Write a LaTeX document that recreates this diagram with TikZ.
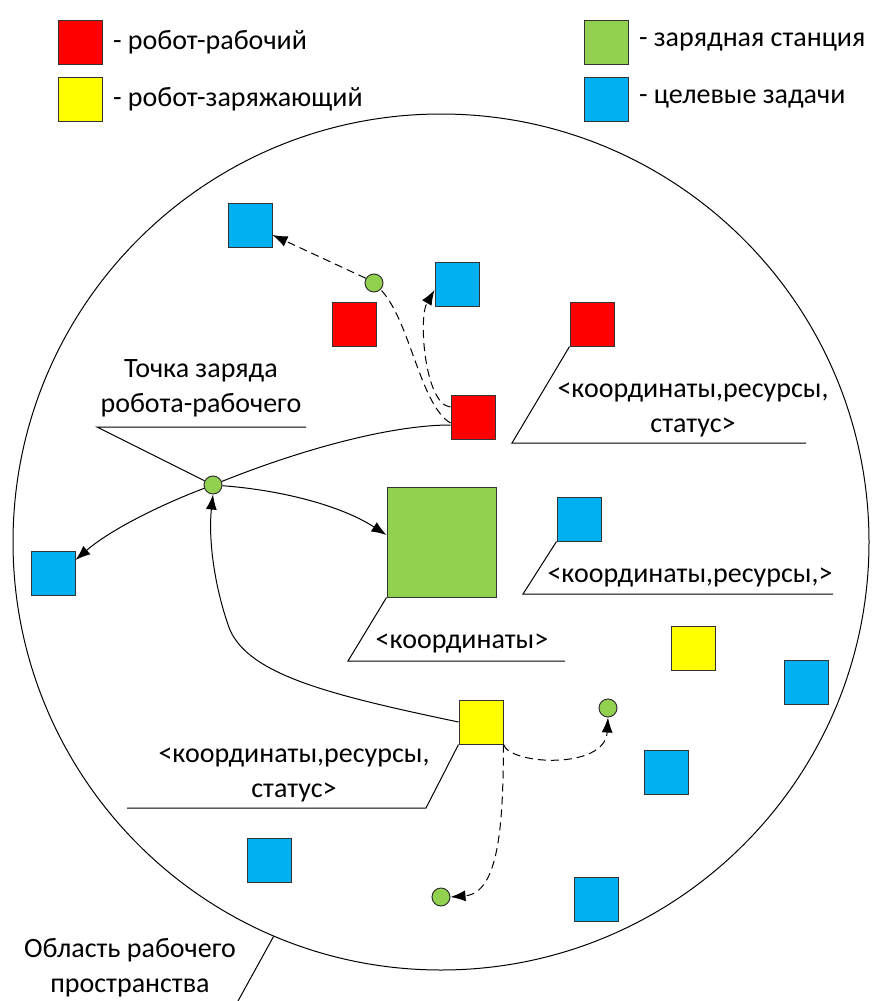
\documentclass[tikz,border=0pt]{standalone}
\usepackage{fontspec}
\setmainfont{Carlito}
\usetikzlibrary{positioning}
\usetikzlibrary{arrows.meta}

\definecolor{rob}{HTML}{FF0000}
\definecolor{chg}{HTML}{FFFF00}
\definecolor{stn}{HTML}{92D050}
\definecolor{tsk}{HTML}{00B0F0}

\begin{document}
\begin{tikzpicture}[x=1pt, y=-1pt, line width=1pt,
        every node/.style={font=\fontsize{28}{35}\selectfont},
        box/.style={draw=black!80, minimum size=44pt, inner sep=0pt},
        dot/.style={draw=black!80, circle, fill=stn, minimum size=18pt, inner sep=0pt},
        txt/.style={align=center, inner sep=0pt},
        arr/.style={-{Latex[length=15pt,width=11pt]}},
        dsh/.style={dash pattern=on 8pt off 5pt}]

    \useasboundingbox (0,0) rectangle (873,1001);

    % legend
    \node[box, fill=rob] (lrob) at (80,42) {};
    \node[txt, right=10pt of lrob] (lrobt) {- робот-рабочий};
    \node[box, fill=chg] (lchg) at (80,99) {};
    \node[txt, right=10pt of lchg] (lchgt) {- робот-заряжающий};
    \node[box, fill=stn] (lstn) at (606,42) {};
    \node[txt, right=10pt of lstn] (lstnt) {- зарядная станция};
    \node[box, fill=tsk] (ltsk) at (606,99) {};
    \node[txt, right=10pt of ltsk] (ltskt) {- целевые задачи};

    % working area
    \node[draw, circle, minimum size=856pt, inner sep=0pt] (area) at (441,542) {};

    % robots, tasks, station
    \node[box, fill=tsk] (tsk1) at (250,225) {};
    \node[box, fill=tsk] (tsk2) at (457,284) {};
    \node[box, fill=rob] (rob1) at (354,324) {};
    \node[box, fill=rob] (rob2) at (592,324) {};
    \node[box, fill=rob] (rob3) at (473,417) {};
    \node[box, fill=stn, minimum width=109pt, minimum height=110pt] (stn) at (441.5,542) {};
    \node[box, fill=tsk] (tsk3) at (579,519) {};
    \node[box, fill=tsk] (tsk4) at (53,573) {};
    \node[box, fill=chg] (chg1) at (693,648) {};
    \node[box, fill=tsk] (tsk5) at (806,682) {};
    \node[box, fill=chg] (chg2) at (481,722) {};
    \node[box, fill=tsk] (tsk6) at (666,772) {};
    \node[box, fill=tsk] (tsk7) at (269,860) {};
    \node[box, fill=tsk] (tsk8) at (596,899) {};

    \node[dot] (cp) at (213,485) {};
    \node[dot] (dot1) at (374,283) {};
    \node[dot] (dot2) at (608,708) {};
    \node[dot] (dot3) at (441,897) {};

    % charging point
    \node[txt] (cplbl) at (201,388) {Точка заряда\\робота-рабочего};
    \coordinate (cpl) at (97,427);
    \coordinate (cpr) at (306,427);
    \draw (cpr) -- (cpl) -- (cp);

    \draw (cp) .. controls (300,450) and (390,425) .. ([yshift=-8pt]rob3.west);
    \draw[arr] (cp) .. controls (160,505) and (110,530) .. ([yshift=13pt]tsk4.east);
    \draw[arr] (cp) .. controls (280,490) and (340,505) .. ([yshift=7pt]stn.west);
    \draw[arr] (chg2.west) .. controls (330,695) and (250,675) .. (230,630)
        .. controls (215,590) and (208,540) .. (cp.south);

    % worker robot paths
    \draw[dsh, arr] ([yshift=10pt]rob3.west) .. controls (425,405) and (418,318) .. ([yshift=-6pt]tsk2.west);
    \draw[dsh] ([yshift=-6pt]rob3.west) .. controls (420,405) and (410,320) .. (dot1.-45);
    \draw[dsh, arr] (dot1.150) -- ([yshift=-10pt]tsk1.east);

    % charging robot paths
    \draw[dsh, arr] (chg2.south east) .. controls (510,765) and (605,770) .. (dot2.south);
    \draw[dsh, arr] (chg2.south east) .. controls (503,820) and (500,893) .. (dot3.east);

    % callouts
    \coordinate (r2a) at (512,443);
    \coordinate (r2b) at (806,443);
    \draw (rob2.south west) -- (r2a) -- (r2b);
    \node[txt] (r2lbl) at (693,410) {<координаты,ресурсы,\\статус>};

    \coordinate (t3a) at (523,594);
    \coordinate (t3b) at (833,594);
    \draw (tsk3.south west) -- (t3a) -- (t3b);
    \node[txt] (t3lbl) at (690,577) {<координаты,ресурсы,>};

    \coordinate (sa) at (348,661);
    \coordinate (sb) at (565,661);
    \draw (stn.south west) -- (sa) -- (sb);
    \node[txt] (slbl) at (462,643) {<координаты>};

    \coordinate (c2a) at (426,808);
    \coordinate (c2b) at (127,808);
    \draw (chg2.south west) -- (c2a) -- (c2b);
    \node[txt] (c2lbl) at (294,775) {<координаты,ресурсы,\\статус>};

    \coordinate (al) at (238,1001);
    \draw (al) -- (area.247);
    \node[txt] (albl) at (130,968) {Область рабочего\\пространства};
\end{tikzpicture}
\end{document}
